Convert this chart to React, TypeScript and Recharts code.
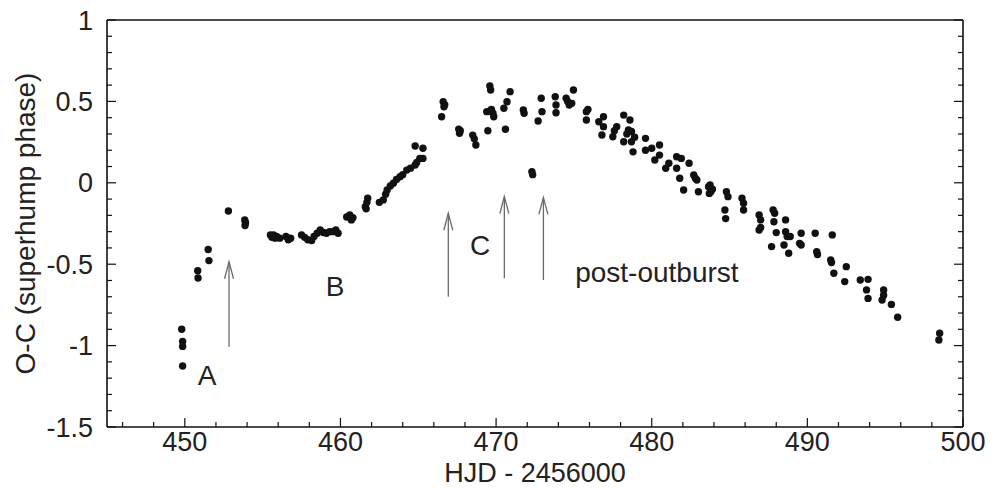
import React from 'react';
import { ScatterChart, Scatter, XAxis, YAxis, ReferenceLine, ReferenceDot } from 'recharts';

const FONT = '"Liberation Sans", Arial, Helvetica, sans-serif';

// ---- tick values ----
const xMajorTicks = [450, 460, 470, 480, 490, 500];
const xMinorTicks = [446, 448, 452, 454, 456, 458, 462, 464, 466, 468, 472, 474, 476, 478, 482, 484, 486, 488, 492, 494, 496, 498];
const yMajorTicks = [-1.5, -1, -0.5, 0, 0.5, 1];
const yMinorTicks = [-1.4, -1.3, -1.2, -1.1, -0.9, -0.8, -0.7, -0.6, -0.4, -0.3, -0.2, -0.1, 0.1, 0.2, 0.3, 0.4, 0.6, 0.7, 0.8, 0.9];

// ---- data: [HJD-2456000, O-C] ----
const stageA: [number, number][] = [
  [449.8, -0.9], [449.86, -0.975], [449.86, -1.005], [449.86, -1.125],
  [450.83, -0.54], [450.85, -0.585], [451.5, -0.41], [451.55, -0.478],
];

const stageB: [number, number][] = [
  [452.8, -0.173], [453.85, -0.228], [453.9, -0.245], [453.87, -0.262],
  [455.5, -0.32], [455.6, -0.335], [455.7, -0.32], [455.8, -0.34], [455.9, -0.33], [456.1, -0.34],
  [456.5, -0.33], [456.65, -0.35], [456.8, -0.34],
  [457.5, -0.32], [457.7, -0.335], [457.9, -0.35], [458.15, -0.355], [458.3, -0.33], [458.5, -0.31],
  [458.7, -0.29], [458.9, -0.305], [459.1, -0.31], [459.3, -0.3], [459.5, -0.3], [459.7, -0.29], [459.85, -0.31],
  [460.4, -0.21], [460.6, -0.198], [460.7, -0.228], [460.8, -0.215],
  [461.6, -0.147], [461.7, -0.12], [461.75, -0.095], [461.65, -0.16],
  [462.5, -0.12], [462.75, -0.105], [462.9, -0.07], [463.0, -0.044], [463.2, -0.02], [463.4, -0.003],
  [463.6, 0.02], [463.83, 0.037], [464.0, 0.05], [464.26, 0.078], [464.5, 0.09], [464.8, 0.109],
  [464.9, 0.125], [465.1, 0.15], [464.8, 0.226], [465.3, 0.212], [465.3, 0.15],
];

const stageC: [number, number][] = [
  [466.6, 0.498], [466.65, 0.467], [466.5, 0.406], [466.7, 0.48],
  [467.6, 0.33], [467.65, 0.304], [467.7, 0.32],
  [468.5, 0.293], [468.7, 0.232], [468.6, 0.27],
  [469.47, 0.32], [469.6, 0.595], [469.65, 0.57], [469.4, 0.437], [469.6, 0.44], [469.8, 0.427],
  [469.85, 0.406], [469.7, 0.45],
  [470.5, 0.458], [470.7, 0.498], [470.9, 0.56], [470.6, 0.329],
  [471.75, 0.447], [471.8, 0.427],
  [472.3, 0.068], [472.35, 0.05],
];

const postOutburst: [number, number][] = [
  [472.9, 0.519], [472.95, 0.437], [472.7, 0.38],
  [473.8, 0.529], [473.85, 0.478], [473.85, 0.43],
  [474.5, 0.519], [474.7, 0.478], [474.97, 0.57], [474.86, 0.488], [474.6, 0.5],
  [475.8, 0.437], [475.8, 0.386], [475.9, 0.45],
  [476.6, 0.375], [476.9, 0.406], [476.8, 0.294], [476.9, 0.345],
  [477.75, 0.345], [477.5, 0.283], [477.6, 0.32],
  [478.2, 0.416], [478.6, 0.386], [478.5, 0.324], [478.7, 0.315], [478.2, 0.252], [478.8, 0.19],
  [478.7, 0.252], [478.4, 0.3], [478.9, 0.28],
  [479.6, 0.273], [479.6, 0.2], [480.0, 0.212], [480.5, 0.232], [480.2, 0.14], [480.5, 0.17],
  [480.9, 0.089], [481.1, 0.12],
  [481.6, 0.16], [481.9, 0.15], [481.6, 0.089], [482.4, 0.12], [481.8, 0.028], [482.05, -0.044],
  [482.7, 0.048], [482.9, 0.017], [483.0, -0.055], [482.8, 0.028],
  [483.65, -0.024], [483.75, -0.013], [483.8, -0.055], [483.7, -0.065], [483.9, -0.04],
  [484.8, -0.055], [484.9, -0.085], [484.7, -0.167], [484.75, -0.22],
  [485.8, -0.095], [485.9, -0.126], [485.9, -0.167],
  [486.9, -0.198], [487.0, -0.228], [486.9, -0.29], [487.0, -0.275],
  [487.8, -0.167], [487.9, -0.187], [487.85, -0.239], [488.6, -0.228], [488.0, -0.306], [487.7, -0.392],
  [488.6, -0.3], [488.7, -0.33], [488.9, -0.33], [488.5, -0.382], [488.8, -0.433], [489.5, -0.372],
  [489.6, -0.31], [489.6, -0.382],
  [490.5, -0.31], [490.6, -0.423], [490.65, -0.44],
  [491.6, -0.32], [491.5, -0.474], [491.55, -0.49], [491.7, -0.556],
  [492.5, -0.515], [492.4, -0.607],
  [493.4, -0.597], [493.9, -0.593], [493.8, -0.658], [493.9, -0.71],
  [494.9, -0.658], [494.8, -0.72], [494.9, -0.69], [495.4, -0.747], [495.8, -0.826],
  [498.5, -0.924], [498.45, -0.966],
];

// ---- annotations ----
const arrowX = [452.84, 466.93, 470.53, 473.04];
const arrowBase = [-1.007, -0.7, -0.587, -0.597];
const arrowTip = [-0.485, -0.187, -0.085, -0.09];

const labelText = ['A', 'B', 'C', 'post-outburst'];
const labelX = [451.43, 459.65, 468.97, 475.08];
const labelY = [-1.243, -0.695, -0.443, -0.609];
const labelAnchor = ['middle', 'middle', 'middle', 'start'];

const allPoints = [...stageA, ...stageB, ...stageC, ...postOutburst].map(([x, y]) => ({ x, y }));
const xAllTicks = [...xMajorTicks, ...xMinorTicks].sort((a, b) => a - b);
const yAllTicks = [...yMajorTicks, ...yMinorTicks].sort((a, b) => a - b);

const INK = '#111';
const TXT = '#222';
const MAJOR = 9;
const MINOR = 5;

const isMajorX = (v: number) => xMajorTicks.some((t) => Math.abs(t - v) < 1e-6);
const isMajorY = (v: number) => yMajorTicks.some((t) => Math.abs(t - v) < 1e-6);

const BottomTick = (p: any) => {
  const v = p.payload.value;
  const major = isMajorX(v);
  return (
    <g>
      <line x1={p.x} y1={p.y} x2={p.x} y2={p.y - (major ? MAJOR : MINOR)} stroke={INK} strokeWidth={1.2} />
      {major && (
        <text x={p.x} y={p.y + 24} textAnchor="middle" fontSize={27} fontFamily={FONT} fill={TXT}>
          {v}
        </text>
      )}
    </g>
  );
};

const TopTick = (p: any) => {
  const major = isMajorX(p.payload.value);
  return <line x1={p.x} y1={p.y} x2={p.x} y2={p.y + (major ? MAJOR : MINOR)} stroke={INK} strokeWidth={1.2} />;
};

const LeftTick = (p: any) => {
  const v = p.payload.value;
  const major = isMajorY(v);
  return (
    <g>
      <line x1={p.x} y1={p.y} x2={p.x + (major ? MAJOR : MINOR)} y2={p.y} stroke={INK} strokeWidth={1.2} />
      {major && (
        <text x={p.x - 14} y={p.y + 9.5} textAnchor="end" fontSize={27} fontFamily={FONT} fill={TXT}>
          {v}
        </text>
      )}
    </g>
  );
};

const RightTick = (p: any) => {
  const major = isMajorY(p.payload.value);
  return <line x1={p.x} y1={p.y} x2={p.x - (major ? MAJOR : MINOR)} y2={p.y} stroke={INK} strokeWidth={1.2} />;
};

const Dot = (p: any) => <circle cx={p.cx} cy={p.cy} r={3.7} fill="#111" />;

const Arrow = (p: any) => {
  const { x1, y1, x2, y2 } = p;
  return (
    <g stroke="#6a6a6a" strokeWidth={1.3} fill="none">
      <line x1={x1} y1={y1} x2={x2} y2={y2} />
      <polyline points={`${x2 - 4.5},${y2 + 17} ${x2},${y2} ${x2 + 4.5},${y2 + 17}`} />
    </g>
  );
};

const YLabel = (props: any) => {
  const vb = props.viewBox || { x: 0, y: 20, width: 107, height: 407 };
  const cx = vb.x + 25;
  const cy = vb.y + vb.height / 2;
  return (
    <text
      x={cx}
      y={cy}
      transform={`rotate(-90, ${cx}, ${cy})`}
      textAnchor="middle"
      dominantBaseline="central"
      fontSize={28}
      fontFamily={FONT}
      fill={TXT}
    >
      O-C (superhump phase)
    </text>
  );
};

const XLabel = (props: any) => {
  const vb = props.viewBox || { x: 107, y: 427, width: 856, height: 61 };
  return (
    <text x={vb.x + vb.width / 2} y={vb.y + 55} textAnchor="middle" fontSize={27} fontFamily={FONT} fill={TXT}>
      HJD - 2456000
    </text>
  );
};

const lineStyle = { stroke: INK, strokeWidth: 1.6 };

export default function App() {
  return (
    <div style={{ position: 'absolute', left: 0, top: 0, background: '#fff' }}>
      <ScatterChart width={993} height={488} margin={{ top: 0, right: 0, bottom: 0, left: 0 }}>
        <XAxis xAxisId="x" dataKey="x" type="number" domain={[445, 500]} ticks={xAllTicks} interval={0}
          height={61} tickSize={0} tickMargin={0} tickLine={false} tick={BottomTick}
          axisLine={lineStyle} allowDataOverflow label={<XLabel />} />
        <XAxis xAxisId="xt" orientation="top" type="number" domain={[445, 500]} ticks={xAllTicks} interval={0}
          height={20} tickSize={0} tickMargin={0} tickLine={false} tick={TopTick}
          axisLine={lineStyle} allowDataOverflow />
        <YAxis yAxisId="y" dataKey="y" type="number" domain={[-1.5, 1]} ticks={yAllTicks} interval={0}
          width={107} tickSize={0} tickMargin={0} tickLine={false} tick={LeftTick}
          axisLine={lineStyle} allowDataOverflow label={<YLabel />} />
        <YAxis yAxisId="yr" orientation="right" type="number" domain={[-1.5, 1]} ticks={yAllTicks} interval={0}
          width={30} tickSize={0} tickMargin={0} tickLine={false} tick={RightTick}
          axisLine={lineStyle} allowDataOverflow />

        {arrowX.map((ax, i) => (
          <ReferenceLine
            key={'arrow' + i}
            xAxisId="x"
            yAxisId="y"
            segment={[{ x: ax, y: arrowBase[i] }, { x: ax, y: arrowTip[i] }]}
            shape={Arrow}
          />
        ))}

        {labelText.map((t, i) => (
          <ReferenceDot
            key={'lab' + i}
            xAxisId="x"
            yAxisId="y"
            x={labelX[i]}
            y={labelY[i]}
            r={0}
            shape={(p: any) => (
              <text x={p.cx} y={p.cy} textAnchor={labelAnchor[i] as any} fontSize={28} fontFamily={FONT} fill={TXT}>
                {t}
              </text>
            )}
          />
        ))}

        <Scatter xAxisId="x" yAxisId="y" data={allPoints} shape={Dot} isAnimationActive={false} />
      </ScatterChart>
    </div>
  );
}
